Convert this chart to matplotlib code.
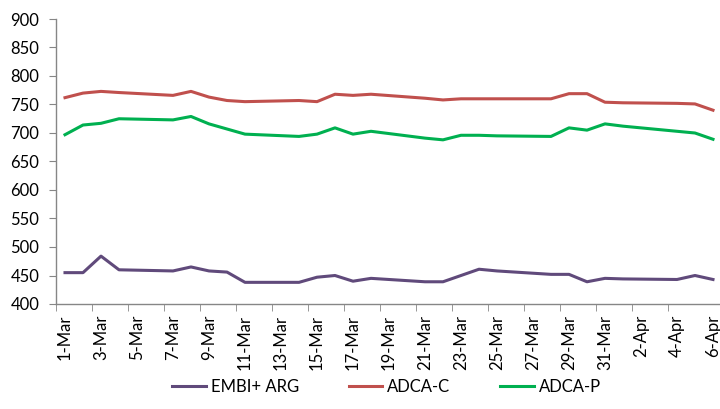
import matplotlib
matplotlib.use("Agg")
import matplotlib.pyplot as plt
import pandas as pd

plt.rcParams['font.family'] = ['Lato', 'DejaVu Sans']

# trading days shown on the chart
dates = pd.to_datetime([
    "2011-03-01", "2011-03-02", "2011-03-03", "2011-03-04",
    "2011-03-07", "2011-03-08", "2011-03-09", "2011-03-10", "2011-03-11",
    "2011-03-14", "2011-03-15", "2011-03-16", "2011-03-17", "2011-03-18",
    "2011-03-21", "2011-03-22", "2011-03-23", "2011-03-24", "2011-03-25",
    "2011-03-28", "2011-03-29", "2011-03-30", "2011-03-31", "2011-04-01",
    "2011-04-04", "2011-04-05", "2011-04-06",
])

embi_arg = [455, 455, 484, 460, 458, 465, 458, 456, 438, 438, 447, 450, 440, 445,
            439, 439, 450, 461, 458, 452, 452, 439, 445, 444, 443, 450, 443]
adca_c = [762, 770, 773, 771, 766, 773, 763, 757, 755, 757, 755, 768, 766, 768,
          761, 758, 760, 760, 760, 760, 769, 769, 754, 753, 752, 751, 740]
adca_p = [697, 714, 717, 725, 723, 729, 716, 707, 698, 694, 698, 709, 698, 703,
          691, 688, 696, 696, 695, 694, 709, 705, 716, 712, 703, 700, 689]

series_names = ["EMBI+ ARG", "ADCA-C", "ADCA-P"]
series_colors = ["#604A7B", "#C0504D", "#00B050"]

fig = plt.figure(figsize=(7.2, 4.09), dpi=100)
ax = fig.add_axes([56 / 720, 1 - 304 / 409, 666 / 720, 285 / 409])

lines = []
for vals, name, col in zip([embi_arg, adca_c, adca_p], series_names, series_colors):
    ln, = ax.plot(dates, vals, color=col, lw=2.2, label=name, solid_joinstyle='round')
    lines.append(ln)

half = pd.Timedelta(hours=12)
start = pd.Timestamp("2011-03-01")
end = pd.Timestamp("2011-04-06")
ax.set_xlim(start - half, end + half)
ax.set_ylim(400, 900)
ax.set_yticks(range(400, 901, 50))

# labels every other day at the day centre, tick marks on the day edges
label_days = pd.date_range(start, end, freq="2D")
ax.set_xticks(label_days)
ax.set_xticklabels([f"{d.day}-{d.strftime('%b')}" for d in label_days], rotation=90)
ax.set_xticks(label_days[:-1] - half, minor=True)

axis_col = "#868686"
for side in ["top", "right"]:
    ax.spines[side].set_visible(False)
for side in ["left", "bottom"]:
    ax.spines[side].set_color(axis_col)
    ax.spines[side].set_linewidth(1.0)

ax.tick_params(axis='x', which='major', length=0, pad=8, labelsize=12)
ax.tick_params(axis='x', which='minor', length=5, color=axis_col, direction='out')
ax.tick_params(axis='y', length=5, color=axis_col, direction='out', pad=7, labelsize=12)

fig.legend(lines, series_names, loc='center', bbox_to_anchor=(0.537, 0.054), ncol=3,
           frameon=False, fontsize=12, handlelength=2.0, handletextpad=0.3,
           columnspacing=3.0)

fig.savefig("out.png", dpi=100)
